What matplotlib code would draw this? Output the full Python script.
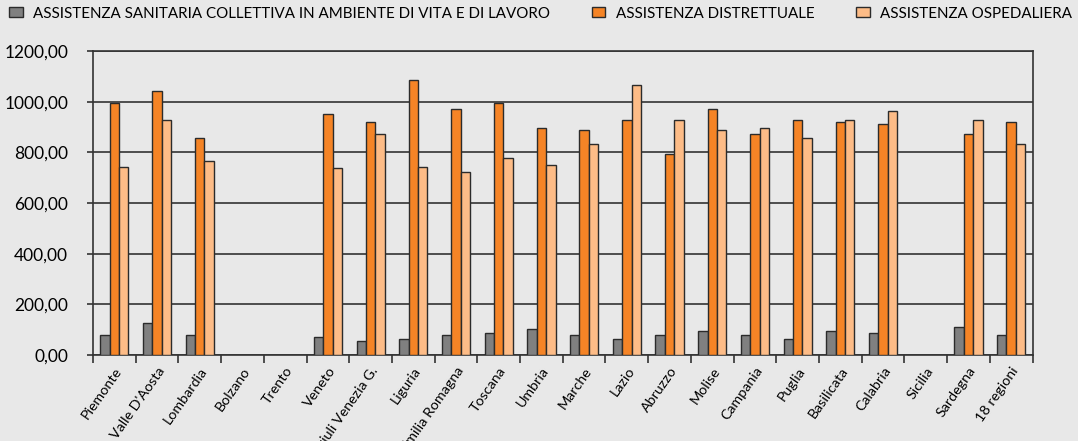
import numpy as np
import matplotlib.pyplot as plt
from matplotlib.ticker import FuncFormatter, FixedLocator

# Dati (valori pro capite)
regioni = ["Piemonte", "Valle D'Aosta", "Lombardia", "Bolzano", "Trento", "Veneto",
           "Friuli Venezia G.", "Liguria", "Emilia Romagna", "Toscana", "Umbria",
           "Marche", "Lazio", "Abruzzo", "Molise", "Campania", "Puglia",
           "Basilicata", "Calabria", "Sicilia", "Sardegna", "18 regioni"]

collettiva = [80, 128, 80, np.nan, np.nan, 72, 55, 64, 80, 87, 101, 80, 64, 80,
              96, 80, 64, 96, 87, np.nan, 112, 80]
distrettuale = [995, 1042, 858, np.nan, np.nan, 952, 921, 1088, 971, 995, 896, 890,
                929, 794, 971, 874, 929, 921, 914, np.nan, 874, 921]
ospedaliera = [743, 930, 768, np.nan, np.nan, 737, 874, 743, 721, 778, 751, 833,
               1065, 929, 890, 898, 858, 929, 962, np.nan, 929, 833]

serie = ["ASSISTENZA SANITARIA COLLETTIVA IN AMBIENTE DI VITA E DI LAVORO",
         "ASSISTENZA DISTRETTUALE", "ASSISTENZA OSPEDALIERA"]
colori = ["#808080", "#F58426", "#FDBC87"]

plt.rcParams['font.family'] = ['Lato', 'DejaVu Sans']

sfondo = "#E8E8E8"
fig = plt.figure(figsize=(10.78, 4.41), dpi=100, facecolor=sfondo)
ax = fig.add_axes([0.0863, 0.195, 0.8715, 0.689])
ax.set_facecolor(sfondo)

n = len(regioni)
x = np.arange(n)
w = 0.22
barre = []
for i, (vals, col, nome) in enumerate(zip([collettiva, distrettuale, ospedaliera], colori, serie)):
    b = ax.bar(x + (i - 1) * w, vals, width=w, color=col, edgecolor="#2b2b2b",
               linewidth=1.0, label=nome, zorder=3)
    barre.append(b)

ax.set_xlim(-0.5, n - 0.5)
ax.set_ylim(0, 1200)
ax.set_yticks(np.arange(0, 1201, 200))
ax.yaxis.set_major_formatter(FuncFormatter(lambda v, p: f"{v:.2f}".replace(".", ",")))
ax.grid(axis="y", color="#333333", linewidth=1.2, zorder=0)

ax.set_xticks(x)
ax.set_xticklabels(regioni, rotation=55, ha="right", rotation_mode="anchor", fontsize=10.3)
ax.xaxis.set_minor_locator(FixedLocator(np.arange(-0.5, n, 1)))
ax.tick_params(axis="x", which="major", length=0, pad=7)
ax.tick_params(axis="x", which="minor", length=6, width=1.2, color="#333333")
ax.tick_params(axis="y", length=4.5, width=1.2, color="#333333", labelsize=12.5, pad=13.5)

for s in ["left", "right", "bottom", "top"]:
    ax.spines[s].set_color("#333333")
    ax.spines[s].set_linewidth(1.2)

# legenda: una voce per volta, alle posizioni del riferimento
pos_legenda = [0.0085, 0.549, 0.794]
for b, nome, px in zip(barre, serie, pos_legenda):
    fig.legend(handles=[b], labels=[nome], loc="upper left", bbox_to_anchor=(px, 0.985),
               frameon=False, fontsize=10.9, handlelength=0.9, handleheight=0.6,
               handletextpad=0.7, borderpad=0, borderaxespad=0)

fig.savefig("out.png", dpi=100, facecolor=sfondo)
